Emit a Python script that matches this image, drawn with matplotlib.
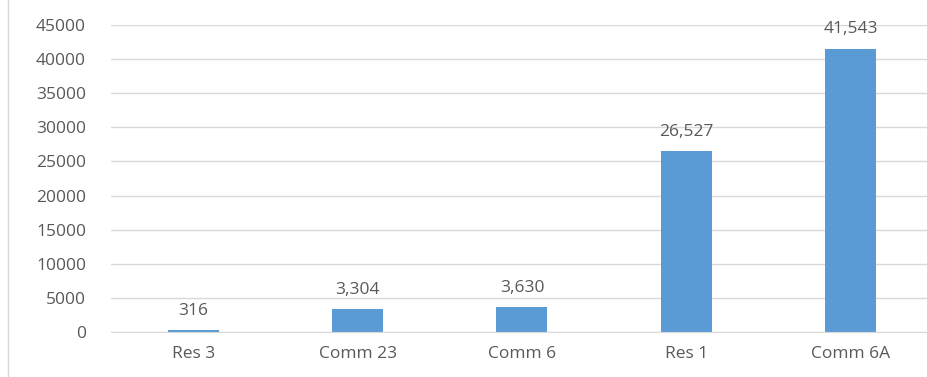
import matplotlib
matplotlib.use('Agg')
import matplotlib.pyplot as plt
from matplotlib.lines import Line2D

categories = ['Res 3', 'Comm 23', 'Comm 6', 'Res 1', 'Comm 6A']
values = [316, 3304, 3630, 26527, 41543]
yticks = list(range(0, 45001, 5000))

plt.rcParams['font.family'] = ['Open Sans', 'DejaVu Sans']
text_color = '#595959'

fig = plt.figure(figsize=(9.28, 3.77), dpi=100)
ax = fig.add_axes([111 / 928, 1 - 332 / 377, 1 - 111 / 928, (332 - 25) / 377])

x = range(len(categories))
bars = ax.bar(x, values, width=0.31, color='#5b9bd5', zorder=3)

for b, v in zip(bars, values):
    ax.annotate(f'{v:,}', (b.get_x() + b.get_width() / 2, v), xytext=(0, 8),
                textcoords='offset points', ha='center', va='bottom',
                fontsize=12.5, color=text_color)

ax.set_xlim(-0.5, 4.47)
ax.set_ylim(0, 45000)
ax.set_yticks(yticks)
ax.set_yticklabels([str(t) for t in yticks])
ax.set_xticks(list(x))
ax.set_xticklabels(categories)
ax.yaxis.grid(True, color='#d9d9d9', linewidth=1, zorder=0)
ax.tick_params(axis='both', length=0, labelsize=12.5, labelcolor=text_color)
ax.tick_params(axis='y', pad=18)
ax.tick_params(axis='x', pad=10)
for s in ['top', 'right', 'left']:
    ax.spines[s].set_visible(False)
ax.spines['bottom'].set_color('#d9d9d9')
ax.spines['bottom'].set_zorder(4)

# chart frame on the left edge
fig.add_artist(Line2D([8.5 / 928, 8.5 / 928], [0, 1], color='#d9d9d9', linewidth=1))

plt.savefig('out.png', dpi=100)
plt.close(fig)
